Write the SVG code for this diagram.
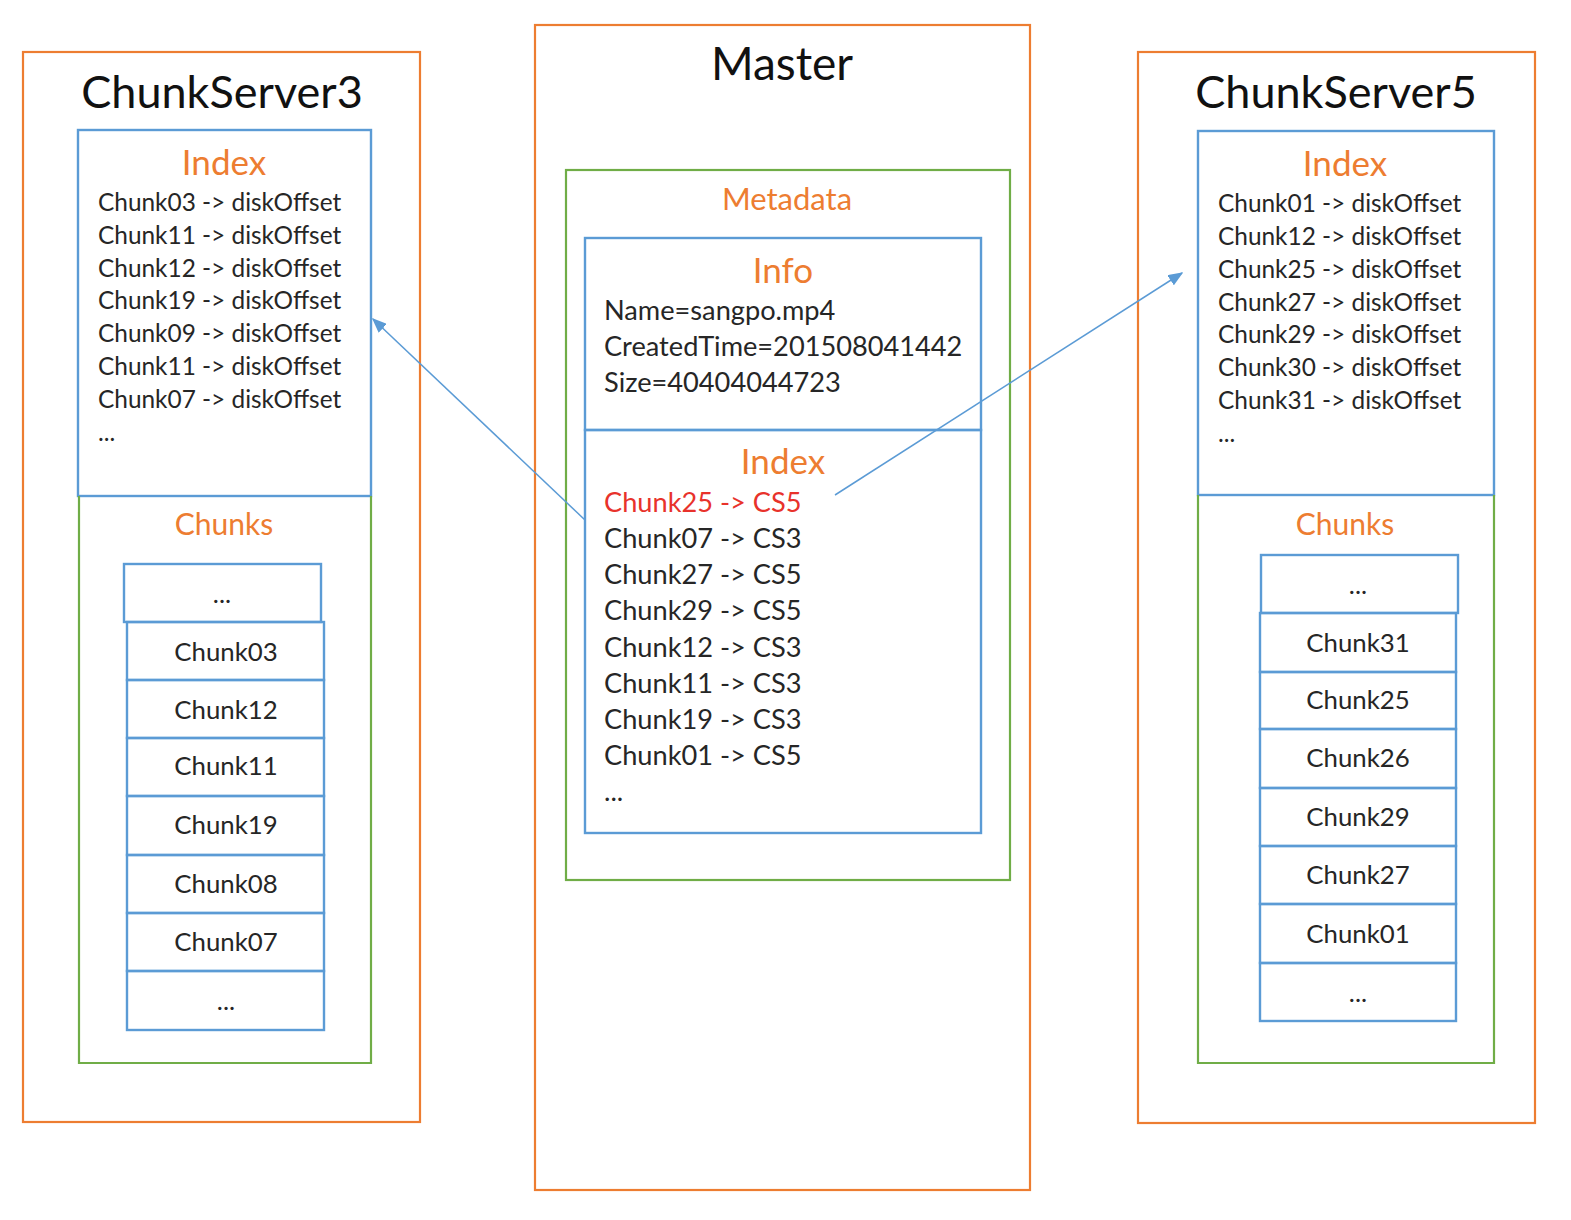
<svg xmlns="http://www.w3.org/2000/svg" width="1571" height="1220" viewBox="0 0 1571 1220">
<style>
text{font-family:Lato,"Open Sans","Liberation Sans",sans-serif;fill:#262626}
.or{fill:none;stroke:#ED7D31;stroke-width:2.2}
.gr{fill:none;stroke:#70AD47;stroke-width:2.2}
.bl{fill:none;stroke:#5B9BD5;stroke-width:2.4}
.title{font-size:45px;text-anchor:middle;fill:#111}
.mt{font-size:46px}
.h1{font-size:35px;text-anchor:middle;fill:#ED7D31}
.h2{font-size:30px;text-anchor:middle;fill:#ED7D31}
.meta{font-size:31px}
.ln{font-size:24.4px}
.ml{font-size:27.2px}
.ck{font-size:25.8px;text-anchor:middle}
.red{fill:#E8322B}
.conn{stroke:#5B9BD5;stroke-width:1.5;fill:none}
</style>
<defs>
<marker id="ah" viewBox="0 0 10 10" refX="9" refY="5" markerWidth="15" markerHeight="12" markerUnits="userSpaceOnUse" orient="auto" preserveAspectRatio="none">
<path d="M0,0 L10,5 L0,10 z" fill="#5B9BD5"/>
</marker>
</defs>
<rect width="1571" height="1220" fill="#fff"/>

<g id="cs3">
<rect class="or" x="23" y="52" width="397" height="1070"/>
<text class="title" x="222" y="108">ChunkServer3</text>
<g id="cs3-index">
<rect class="bl" x="78" y="130" width="293" height="366"/>
<text class="h1" x="224" y="175">Index</text>
<text class="ln" x="98" y="211">Chunk03 -&gt; diskOffset</text>
<text class="ln" x="98" y="244">Chunk11 -&gt; diskOffset</text>
<text class="ln" x="98" y="277">Chunk12 -&gt; diskOffset</text>
<text class="ln" x="98" y="309">Chunk19 -&gt; diskOffset</text>
<text class="ln" x="98" y="342">Chunk09 -&gt; diskOffset</text>
<text class="ln" x="98" y="375">Chunk11 -&gt; diskOffset</text>
<text class="ln" x="98" y="408">Chunk07 -&gt; diskOffset</text>
<text class="ln" x="98" y="441">...</text>
</g>
<g id="cs3-chunks">
<path class="gr" d="M79,496 V1063 H371 V496"/>
<text class="h2" x="224" y="535">Chunks</text>
<rect class="bl" x="124" y="564" width="197" height="58"/>
<text class="ck" x="222" y="603">...</text>
<rect class="bl" x="127" y="622" width="197" height="58"/>
<text class="ck" x="226" y="661">Chunk03</text>
<rect class="bl" x="127" y="680" width="197" height="58"/>
<text class="ck" x="226" y="719">Chunk12</text>
<rect class="bl" x="127" y="738" width="197" height="58"/>
<text class="ck" x="226" y="775">Chunk11</text>
<rect class="bl" x="127" y="796" width="197" height="59"/>
<text class="ck" x="226" y="834">Chunk19</text>
<rect class="bl" x="127" y="855" width="197" height="58"/>
<text class="ck" x="226" y="893">Chunk08</text>
<rect class="bl" x="127" y="913" width="197" height="58"/>
<text class="ck" x="226" y="951">Chunk07</text>
<rect class="bl" x="127" y="971" width="197" height="59"/>
<text class="ck" x="226" y="1010">...</text>
</g>
</g>

<g id="master">
<rect class="or" x="535" y="25" width="495" height="1165"/>
<text class="title mt" x="782" y="80">Master</text>
<g id="metadata">
<rect class="gr" x="566" y="170" width="444" height="710"/>
<text class="h2 meta" x="787" y="210">Metadata</text>
<g id="info">
<rect class="bl" x="585" y="238" width="396" height="192"/>
<text class="h1" x="783" y="283">Info</text>
<text class="ml" x="604" y="320">Name=sangpo.mp4</text>
<text class="ml" x="604" y="356">CreatedTime=201508041442</text>
<text class="ml" x="604" y="392">Size=40404044723</text>
</g>
<g id="m-index">
<rect class="bl" x="585" y="430" width="396" height="403"/>
<text class="h1" x="783" y="474">Index</text>
<text class="ml red" x="604" y="512">Chunk25 -&gt; CS5</text>
<text class="ml" x="604" y="548">Chunk07 -&gt; CS3</text>
<text class="ml" x="604" y="584">Chunk27 -&gt; CS5</text>
<text class="ml" x="604" y="620">Chunk29 -&gt; CS5</text>
<text class="ml" x="604" y="657">Chunk12 -&gt; CS3</text>
<text class="ml" x="604" y="693">Chunk11 -&gt; CS3</text>
<text class="ml" x="604" y="729">Chunk19 -&gt; CS3</text>
<text class="ml" x="604" y="765">Chunk01 -&gt; CS5</text>
<text class="ml" x="604" y="801">...</text>
</g>
</g>
</g>

<g id="cs5">
<rect class="or" x="1138" y="52" width="397" height="1071"/>
<text class="title" x="1336" y="108">ChunkServer5</text>
<g id="cs5-index">
<rect class="bl" x="1198" y="131" width="296" height="364"/>
<text class="h1" x="1345" y="176">Index</text>
<text class="ln" x="1218" y="212">Chunk01 -&gt; diskOffset</text>
<text class="ln" x="1218" y="245">Chunk12 -&gt; diskOffset</text>
<text class="ln" x="1218" y="278">Chunk25 -&gt; diskOffset</text>
<text class="ln" x="1218" y="311">Chunk27 -&gt; diskOffset</text>
<text class="ln" x="1218" y="343">Chunk29 -&gt; diskOffset</text>
<text class="ln" x="1218" y="376">Chunk30 -&gt; diskOffset</text>
<text class="ln" x="1218" y="409">Chunk31 -&gt; diskOffset</text>
<text class="ln" x="1218" y="442">...</text>
</g>
<g id="cs5-chunks">
<path class="gr" d="M1198,495 V1063 H1494 V495"/>
<text class="h2" x="1345" y="535">Chunks</text>
<rect class="bl" x="1261" y="555" width="197" height="58"/>
<text class="ck" x="1358" y="594">...</text>
<rect class="bl" x="1260" y="613" width="196" height="59"/>
<text class="ck" x="1358" y="652">Chunk31</text>
<rect class="bl" x="1260" y="672" width="196" height="57"/>
<text class="ck" x="1358" y="709">Chunk25</text>
<rect class="bl" x="1260" y="729" width="196" height="59"/>
<text class="ck" x="1358" y="767">Chunk26</text>
<rect class="bl" x="1260" y="788" width="196" height="58"/>
<text class="ck" x="1358" y="826">Chunk29</text>
<rect class="bl" x="1260" y="846" width="196" height="58"/>
<text class="ck" x="1358" y="884">Chunk27</text>
<rect class="bl" x="1260" y="904" width="196" height="59"/>
<text class="ck" x="1358" y="943">Chunk01</text>
<rect class="bl" x="1260" y="963" width="196" height="58"/>
<text class="ck" x="1358" y="1002">...</text>
</g>
</g>

<g id="connectors">
<line class="conn" x1="585" y1="520" x2="373" y2="319" marker-end="url(#ah)"/>
<line class="conn" x1="835" y1="495" x2="1182" y2="273" marker-end="url(#ah)"/>
</g>
</svg>
